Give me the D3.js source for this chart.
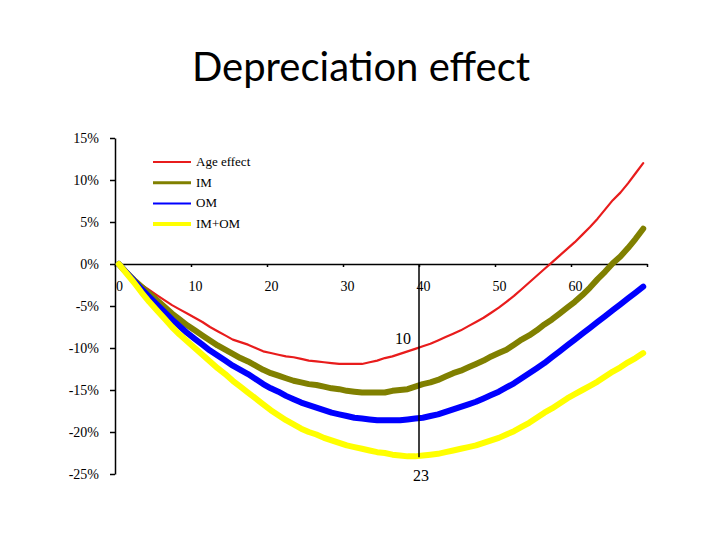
<!DOCTYPE html>
<html>
<head>
<meta charset="utf-8">
<script src="https://cdn.jsdelivr.net/npm/d3@7"></script>
<style>
  html, body { margin: 0; padding: 0; background: #ffffff; }
  svg { display: block; }
</style>
</head>
<body>
<svg id="chart" width="720" height="540"></svg>
<script>
const title = "Depreciation effect";
const ages = d3.range(0, 70);
const xTicks = [0, 10, 20, 30, 40, 50, 60, 70];
const xTickLabels = ["0", "10", "20", "30", "40", "50", "60", ""];
const yTicks = [15, 10, 5, 0, -5, -10, -15, -20, -25];
const seriesNames = ["Age effect", "IM", "OM", "IM+OM"];
const seriesColors = ["#e81c1c", "#808000", "#0000ff", "#ffff00"];
const ageEffect = [0,-1.0,-1.9,-2.5,-3.1,-3.7,-4.3,-4.9,-5.4,-5.9,
  -6.4,-6.9,-7.5,-8.0,-8.5,-9.0,-9.3,-9.6,-10.0,-10.4,
  -10.6,-10.8,-11.0,-11.1,-11.3,-11.5,-11.6,-11.7,-11.8,-11.9,
  -11.9,-11.9,-11.9,-11.7,-11.5,-11.2,-11.0,-10.7,-10.4,-10.1,
  -9.8,-9.5,-9.1,-8.7,-8.3,-7.9,-7.4,-6.9,-6.4,-5.8,
  -5.2,-4.5,-3.8,-3.0,-2.2,-1.4,-0.6,0.2,1.0,1.8,
  2.6,3.5,4.4,5.4,6.5,7.6,8.5,9.6,10.8,12.0];
const im = [0,-1.0,-1.9,-2.7,-3.5,-4.3,-5.1,-5.9,-6.6,-7.3,
  -7.9,-8.5,-9.1,-9.7,-10.2,-10.7,-11.2,-11.6,-12.1,-12.6,
  -13.0,-13.3,-13.6,-13.9,-14.1,-14.3,-14.4,-14.6,-14.8,-14.9,
  -15.1,-15.2,-15.3,-15.3,-15.3,-15.3,-15.1,-15.0,-14.9,-14.6,
  -14.3,-14.1,-13.8,-13.4,-13.0,-12.7,-12.3,-11.9,-11.5,-11.0,
  -10.6,-10.2,-9.6,-9.0,-8.5,-7.9,-7.2,-6.6,-5.9,-5.2,
  -4.5,-3.7,-2.8,-1.8,-0.9,0.1,0.9,1.9,3.0,4.2];
const om = [0,-1.0,-2.0,-3.0,-3.9,-4.8,-5.7,-6.6,-7.4,-8.2,
  -8.9,-9.6,-10.3,-10.9,-11.5,-12.1,-12.6,-13.1,-13.7,-14.3,
  -14.8,-15.2,-15.7,-16.1,-16.5,-16.8,-17.1,-17.4,-17.7,-17.9,
  -18.1,-18.3,-18.4,-18.5,-18.6,-18.6,-18.6,-18.6,-18.5,-18.4,
  -18.3,-18.1,-17.9,-17.6,-17.3,-17.0,-16.7,-16.4,-16.0,-15.6,
  -15.2,-14.7,-14.2,-13.6,-13.0,-12.4,-11.8,-11.1,-10.4,-9.7,
  -9.0,-8.3,-7.6,-6.9,-6.2,-5.5,-4.8,-4.1,-3.4,-2.7];
const imom = [0,-1.1,-2.2,-3.4,-4.5,-5.5,-6.5,-7.5,-8.4,-9.2,
  -10.0,-10.8,-11.6,-12.4,-13.1,-13.9,-14.6,-15.3,-16.0,-16.7,
  -17.4,-18.0,-18.6,-19.1,-19.6,-20.0,-20.3,-20.7,-21.0,-21.3,
  -21.6,-21.8,-22.0,-22.2,-22.4,-22.5,-22.7,-22.8,-22.9,-22.9,
  -22.8,-22.7,-22.6,-22.4,-22.2,-22.0,-21.8,-21.6,-21.3,-21.0,
  -20.7,-20.3,-19.9,-19.4,-18.9,-18.3,-17.7,-17.2,-16.6,-16.0,
  -15.5,-15.0,-14.5,-14.0,-13.4,-12.8,-12.3,-11.7,-11.2,-10.6];
const markerAge = 40;
const markerLow = -23;
const markerTopLabel = "10";
const markerBottomLabel = "23";

const seriesValues = [ageEffect, im, om, imom];
const seriesWidths = [2.2, 6, 6, 6];
const legendWidths = [1.8, 3, 2, 4];

const svg = d3.select("#chart");
const x = d3.scaleLinear().domain([0, 70]).range([115, 647]);
const y = d3.scaleLinear().domain([-25, 15]).range([474, 138]);
const serif = "'Liberation Serif', 'Times New Roman', serif";

// title
svg.append("text")
  .attr("x", 361).attr("y", 81)
  .attr("text-anchor", "middle")
  .style("font-family", "Lato, 'Open Sans', sans-serif")
  .style("font-size", "40px")
  .attr("fill", "#000")
  .text(title);

// y axis
const yAxis = svg.append("g")
  .attr("transform", `translate(${x(0)},0)`)
  .call(d3.axisLeft(y).tickValues(yTicks).tickSize(5).tickSizeOuter(0).tickPadding(11)
    .tickFormat(d => d + "%"));
yAxis.selectAll("text").style("font-family", serif).style("font-size", "14px").attr("fill", "#000");
yAxis.selectAll("line, path").attr("stroke", "#000").attr("stroke-width", 1.5);

// x axis
const xAxis = svg.append("g")
  .attr("transform", `translate(0,${y(0)})`)
  .call(d3.axisBottom(x).tickValues(xTicks).tickSize(3).tickSizeOuter(0).tickPadding(14)
    .tickFormat((d, i) => xTickLabels[i]));
xAxis.selectAll("text").style("font-family", serif).style("font-size", "14px").attr("fill", "#000")
  .attr("dx", "4");
xAxis.selectAll("line, path").attr("stroke", "#000").attr("stroke-width", 1.5);

// series lines
const line = d3.line()
  .x((d, i) => x(ages[i] + 0.5))
  .y(d => y(d));
seriesValues.forEach((vals, k) => {
  svg.append("path")
    .datum(vals)
    .attr("d", line)
    .attr("fill", "none")
    .attr("stroke", seriesColors[k])
    .attr("stroke-width", seriesWidths[k])
    .attr("stroke-linejoin", "round")
    .attr("stroke-linecap", "round");
});

// marker line and labels
svg.append("line")
  .attr("x1", x(markerAge)).attr("x2", x(markerAge))
  .attr("y1", y(0)).attr("y2", y(markerLow))
  .attr("stroke", "#000").attr("stroke-width", 1.5);
svg.append("text")
  .attr("x", x(markerAge) - 16).attr("y", 344)
  .attr("text-anchor", "middle")
  .style("font-family", serif).style("font-size", "16px")
  .text(markerTopLabel);
svg.append("text")
  .attr("x", x(markerAge) + 2).attr("y", 481)
  .attr("text-anchor", "middle")
  .style("font-family", serif).style("font-size", "16px")
  .text(markerBottomLabel);

// legend
const legend = svg.append("g").attr("transform", "translate(153,162)");
seriesNames.forEach((name, k) => {
  const g = legend.append("g").attr("transform", `translate(0,${k * 20.7})`);
  g.append("line")
    .attr("x1", 0).attr("x2", 38).attr("y1", 0).attr("y2", 0)
    .attr("stroke", seriesColors[k]).attr("stroke-width", legendWidths[k]);
  g.append("text")
    .attr("x", 43).attr("y", 4)
    .style("font-family", serif).style("font-size", "13px")
    .attr("fill", "#000")
    .text(name);
});
</script>
</body>
</html>
